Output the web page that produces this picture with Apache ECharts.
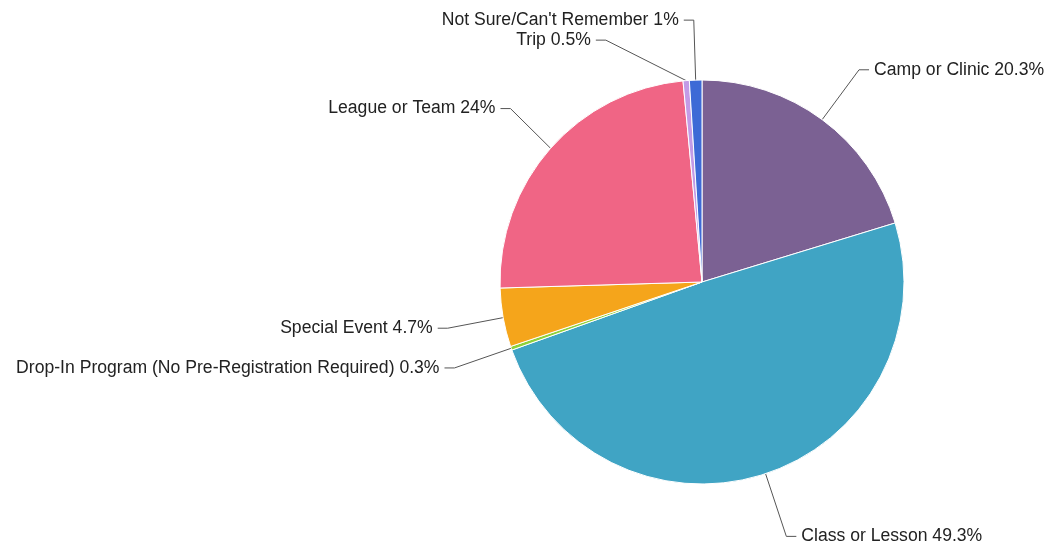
<!DOCTYPE html>
<html><head><meta charset="utf-8">
<script src="https://cdn.jsdelivr.net/npm/echarts@6/dist/echarts.min.js"></script>
<style>html,body{margin:0;padding:0;background:#fff}#c{width:1049px;height:550px}</style>
</head><body><div id="c"></div>
<script>
var categories = ["Camp or Clinic","Class or Lesson","Drop-In Program (No Pre-Registration Required)","Special Event","League or Team","Trip","Not Sure/Can't Remember"];
var values = [20.3, 49.3, 0.3, 4.7, 24, 0.5, 1];
var colors = ["#7b6193","#40a4c4","#8fd13a","#f5a51b","#f06585","#c39be6","#3d6ad6"];
var lineLengths = [62, 66, 60, 60, 60, 60, 60];
var chart = echarts.init(document.getElementById('c'));
chart.setOption({
  animation:false,
  color: colors,
  series:[{
    type:'pie',
    center:[702,282],
    radius:202,
    startAngle:90,
    clockwise:true,
    data: categories.map(function(n,i){return {name:n, value:values[i], labelLine:{length:lineLengths[i]}};}),
    itemStyle:{borderColor:'#fff', borderWidth:1},
    label:{formatter:'{b} {c}%', fontFamily:'Liberation Sans, Arial, sans-serif', fontSize:17.6, color:'#222', overflow:'none'},
    labelLine:{length:60, length2:10, lineStyle:{color:'#555', width:1}}
  }]
});
</script></body></html>
